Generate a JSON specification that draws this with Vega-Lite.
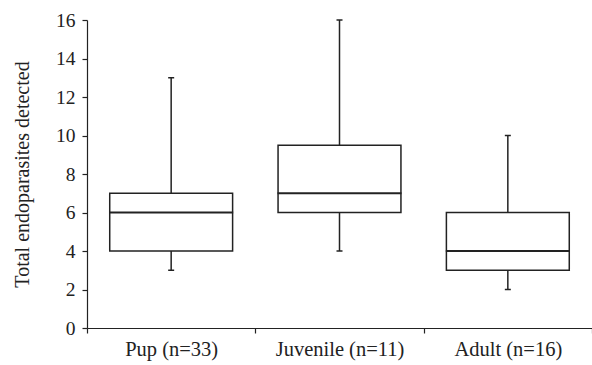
{
  "$schema": "https://vega.github.io/schema/vega-lite/v6.json",
  "autosize": {"type": "none"},
  "padding": {"left": 87, "top": 20, "right": 0, "bottom": 37},
  "width": 505,
  "height": 308,
  "background": "white",
  "data": {"values": [
    {"group": "Pup (n=33)", "min": 3, "q1": 4, "median": 6, "q3": 7, "max": 13},
    {"group": "Juvenile (n=11)", "min": 4, "q1": 6, "median": 7, "q3": 9.5, "max": 16},
    {"group": "Adult (n=16)", "min": 2, "q1": 3, "median": 4, "q3": 6, "max": 10}
  ]},
  "encoding": {
    "x": {
      "field": "group", "type": "nominal", "sort": null,
      "scale": {"paddingInner": 0, "paddingOuter": 0},
      "axis": {"title": null, "labelAngle": 0, "tickBand": "extent", "labelPadding": 6, "labelFontSize": 20.5}
    }
  },
  "layer": [
    {
      "mark": {"type": "rule", "color": "#222", "strokeWidth": 1.5},
      "encoding": {
        "y": {
          "field": "min", "type": "quantitative",
          "scale": {"domain": [0, 16], "nice": false},
          "axis": {"title": "Total endoparasites detected", "values": [0, 2, 4, 6, 8, 10, 12, 14, 16]}
        },
        "y2": {"field": "max"}
      }
    },
    {
      "mark": {"type": "bar", "fill": "white", "stroke": "#222", "strokeWidth": 1.5, "width": {"band": 0.73}},
      "encoding": {
        "y": {"field": "q1", "type": "quantitative", "axis": {"title": "Total endoparasites detected", "values": [0, 2, 4, 6, 8, 10, 12, 14, 16]}},
        "y2": {"field": "q3"}
      }
    },
    {
      "mark": {"type": "tick", "color": "#222", "opacity": 1, "thickness": 2, "size": 124},
      "encoding": {"y": {"field": "median", "type": "quantitative", "axis": {"title": "Total endoparasites detected", "values": [0, 2, 4, 6, 8, 10, 12, 14, 16]}}}
    },
    {
      "mark": {"type": "tick", "color": "#222", "opacity": 1, "thickness": 1.5, "size": 6},
      "encoding": {"y": {"field": "min", "type": "quantitative", "axis": {"title": "Total endoparasites detected", "values": [0, 2, 4, 6, 8, 10, 12, 14, 16]}}}
    },
    {
      "mark": {"type": "tick", "color": "#222", "opacity": 1, "thickness": 1.5, "size": 6},
      "encoding": {"y": {"field": "max", "type": "quantitative", "axis": {"title": "Total endoparasites detected", "values": [0, 2, 4, 6, 8, 10, 12, 14, 16]}}}
    }
  ],
  "config": {
    "view": {"stroke": null},
    "axis": {
      "grid": false, "labelFont": "Liberation Serif", "labelFontSize": 19.5, "labelColor": "#222",
      "titleFont": "Liberation Serif", "titleFontSize": 20, "titleFontWeight": "normal", "titleColor": "#222",
      "tickSize": 5, "tickColor": "#222", "domainColor": "#222", "tickWidth": 1.2, "domainWidth": 1.2,
      "labelOverlap": false
    },
    "axisY": {"titlePadding": 23, "labelPadding": 7}
  }
}
